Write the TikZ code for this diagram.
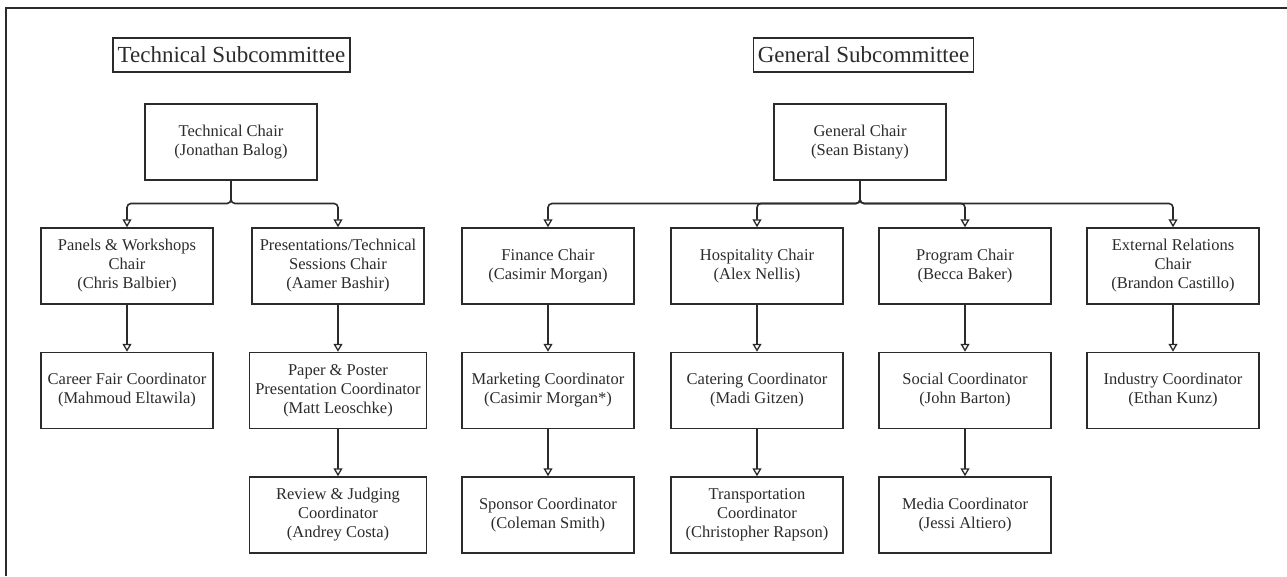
\documentclass[tikz,border=0pt]{standalone}
\usepackage{fontspec}
\setmainfont{Liberation Serif}
\usepackage{tikz}
\usetikzlibrary{arrows.meta}
\definecolor{inkgray}{HTML}{2B2B2B}
\tikzstyle{role}=[draw=inkgray, line width=1.5pt, text=inkgray, align=center, inner sep=0,
                  minimum width=172pt, minimum height=76pt, font=\fontsize{16.5}{19}\selectfont]
\tikzstyle{widerole}=[role, minimum width=177pt]
\tikzstyle{subtitle}=[draw=inkgray, line width=1.5pt, text=inkgray, inner xsep=4.5pt, inner ysep=0,
                      minimum height=34pt, font=\fontsize{23}{27}\selectfont]
\tikzstyle{orgchart}=[x=1pt, y=-1pt,
                      % Hollow heads on every reporting line.
                      reports/.style={draw=inkgray, line width=1.6pt, rounded corners=4pt,
                                      -{Triangle[open, width=9pt, length=8pt, line width=1.3pt]}}]

\begin{document}
\begin{tikzpicture}[orgchart]
    \useasboundingbox (0,0) rectangle (1287,576);
    \draw[inkgray, line width=1.6pt] (6,576) -- (6,8) -- (1287,8);

    % Technical side
    \node[subtitle] (techtitle) at (231.5,55) {Technical Subcommittee};
    \node[role] (techchair) at (231,142) {Technical Chair\\(Jonathan Balog)};
    \node[role] (panels) at (127,266) {Panels \& Workshops\\Chair\\(Chris Balbier)};
    \node[role] (sessions) at (338,266) {Presentations/Technical\\Sessions Chair\\(Aamer Bashir)};
    \node[role] (careerfair) at (127,390.5) {Career Fair Coordinator\\(Mahmoud Eltawila)};
    \node[widerole] (paperposter) at (338,390.5) {Paper \& Poster\\Presentation Coordinator\\(Matt Leoschke)};
    \node[widerole] (reviewjudging) at (338,515) {Review \& Judging\\Coordinator\\(Andrey Costa)};
    \coordinate (techfork) at (231,203.5);

    \draw[reports] (techchair.south) -- (techfork) -| (panels.north);
    \draw[reports] (techchair.south) -- (techfork) -| (sessions.north);
    \draw[reports] (panels) -- (careerfair);
    \draw[reports] (sessions) -- (paperposter);
    \draw[reports] (paperposter) -- (reviewjudging);

    % General side
    \node[subtitle] (gentitle) at (863.5,55) {General Subcommittee};
    \node[role] (genchair) at (860,142) {General Chair\\(Sean Bistany)};
    \node[role] (finance) at (548,266) {Finance Chair\\(Casimir Morgan)};
    \node[role] (hospitality) at (757,266) {Hospitality Chair\\(Alex Nellis)};
    \node[role] (program) at (965,266) {Program Chair\\(Becca Baker)};
    \node[role] (external) at (1173,266) {External Relations\\Chair\\(Brandon Castillo)};
    \node[role] (marketing) at (548,390.5) {Marketing Coordinator\\(Casimir Morgan*)};
    \node[role] (catering) at (757,390.5) {Catering Coordinator\\(Madi Gitzen)};
    \node[role] (social) at (965,390.5) {Social Coordinator\\(John Barton)};
    \node[role] (industry) at (1173,390.5) {Industry Coordinator\\(Ethan Kunz)};
    \node[role] (sponsor) at (548,515) {Sponsor Coordinator\\(Coleman Smith)};
    \node[role] (transport) at (757,515) {Transportation\\Coordinator\\(Christopher Rapson)};
    \node[role] (media) at (965,515) {Media Coordinator\\(Jessi Altiero)};
    \coordinate (genfork) at (860,203.5);

    \foreach \chair in {finance, hospitality, program, external}
        \draw[reports] (genchair.south) -- (genfork) -| (\chair.north);
    \draw[reports] (finance) -- (marketing);
    \draw[reports] (marketing) -- (sponsor);
    \draw[reports] (hospitality) -- (catering);
    \draw[reports] (catering) -- (transport);
    \draw[reports] (program) -- (social);
    \draw[reports] (social) -- (media);
    \draw[reports] (external) -- (industry);
\end{tikzpicture}
\end{document}
